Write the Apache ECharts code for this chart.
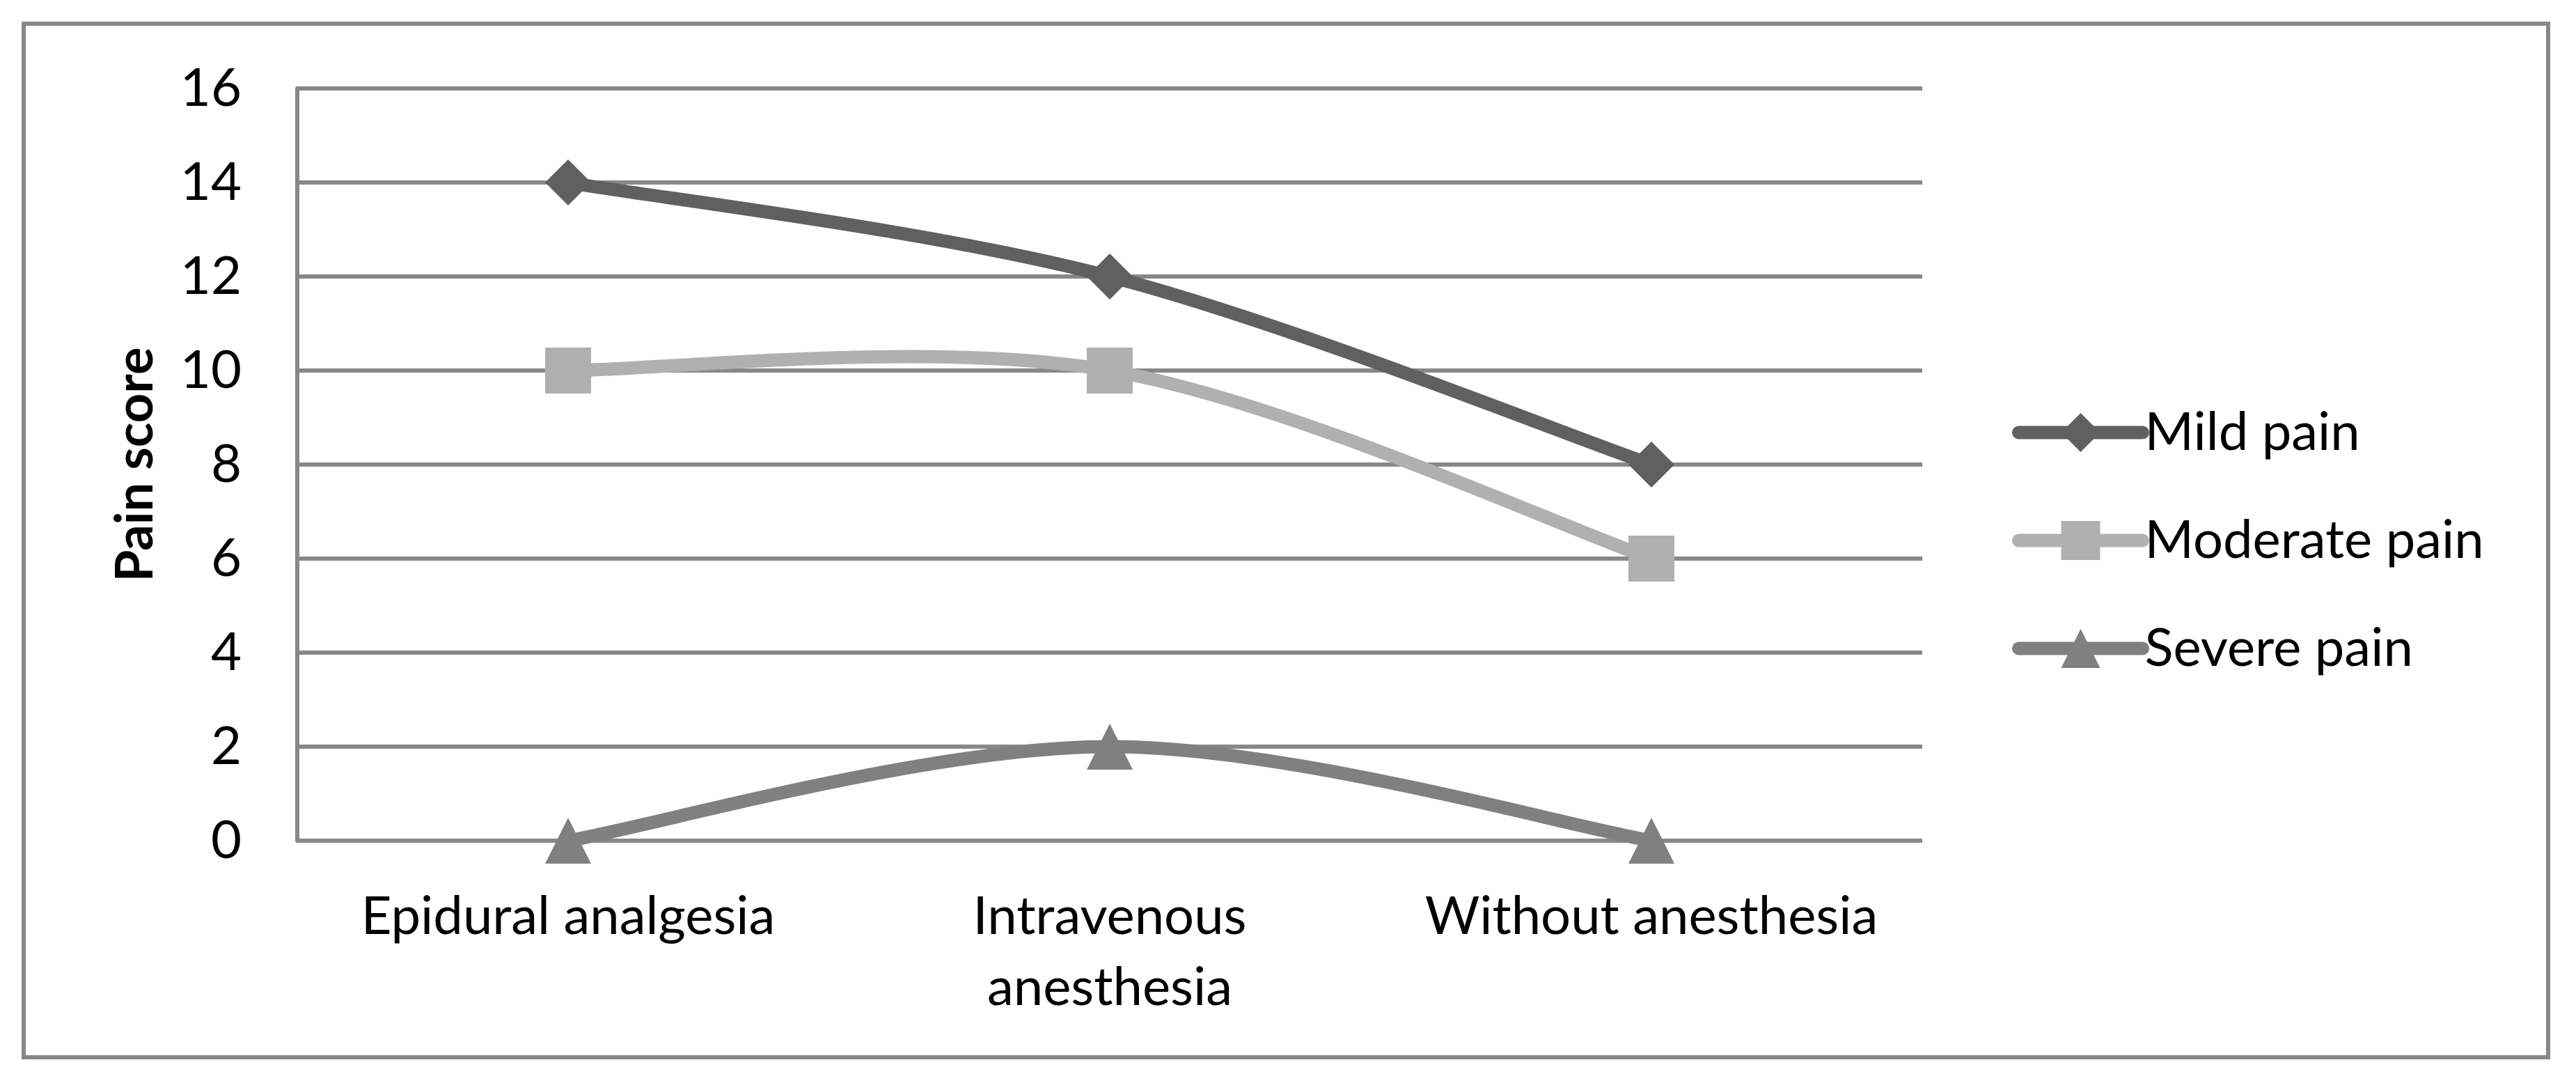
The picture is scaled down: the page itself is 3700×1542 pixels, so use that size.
<!DOCTYPE html>
<html>
<head>
<meta charset="utf-8">
<script src="https://cdn.jsdelivr.net/npm/echarts@6/dist/echarts.min.js"></script>
<style>
html,body{margin:0;padding:0;background:#fff;}
#chart{width:3700px;height:1542px;}
</style>
</head>
<body>
<div id="chart"></div>
<script>
const categories = ['Epidural analgesia', 'Intravenous\nanesthesia', 'Without anesthesia'];
const seriesNames = ['Mild pain', 'Moderate pain', 'Severe pain'];
const mildPain = [14, 12, 8];
const moderatePain = [10, 10, 6];
const severePain = [0, 2, 0];
const yTicks = [0, 2, 4, 6, 8, 10, 12, 14, 16];
const yAxisTitle = 'Pain score';

const FONT = 'Lato';
const GRID_COLOR = '#888888';
const colors = ['#606060', '#b0b0b0', '#808080'];
const symbols = ['diamond', 'rect', 'triangle'];
const values = [mildPain, moderatePain, severePain];
const LINE_W = 19;

const chart = echarts.init(document.getElementById('chart'), null, {renderer: 'canvas'});

// Excel-style smoothed line (Catmull-Rom, 1/6 tension) drawn through the axes' coord mapping
function makeCurveRenderer(vals, color) {
  return function (params, api) {
    if (params.dataIndex !== 0) return null;
    const pts = vals.map((v, j) => api.coord([j, v]));
    const children = [];
    for (let k = 0; k < pts.length - 1; k++) {
      const p0 = pts[Math.max(k - 1, 0)];
      const p1 = pts[k];
      const p2 = pts[k + 1];
      const p3 = pts[Math.min(k + 2, pts.length - 1)];
      children.push({
        type: 'bezierCurve',
        shape: {
          x1: p1[0], y1: p1[1],
          x2: p2[0], y2: p2[1],
          cpx1: p1[0] + (p2[0] - p0[0]) / 6,
          cpy1: p1[1] + (p2[1] - p0[1]) / 6,
          cpx2: p2[0] - (p3[0] - p1[0]) / 6,
          cpy2: p2[1] - (p3[1] - p1[1]) / 6
        },
        style: {stroke: color, lineWidth: LINE_W, fill: 'none', lineCap: 'round', lineJoin: 'round'}
      });
    }
    return {type: 'group', children: children};
  };
}

const series = [];
seriesNames.forEach((name, i) => {
  series.push({
    name: name + ' curve',
    type: 'custom',
    coordinateSystem: 'cartesian2d',
    data: values[i].map((v, j) => [j, v]),
    renderItem: makeCurveRenderer(values[i], colors[i]),
    silent: true,
    clip: false,
    z: 2 + i * 2
  });
  series.push({
    name: name,
    type: 'line',
    data: values[i],
    smooth: false,
    symbol: symbols[i],
    symbolSize: 66,
    showAllSymbol: true,
    lineStyle: {color: colors[i], width: LINE_W, opacity: 0},
    itemStyle: {color: colors[i], borderWidth: 0},
    emphasis: {disabled: true},
    z: 3 + i * 2
  });
});

chart.setOption({
  animation: false,
  backgroundColor: '#ffffff',
  graphic: [{
    type: 'rect',
    shape: {x: 34, y: 34, width: 3626, height: 1484},
    style: {fill: 'none', stroke: GRID_COLOR, lineWidth: 6},
    silent: true
  }],
  grid: {left: 427, right: 939, top: 127, bottom: 335, containLabel: false},
  legend: {
    orient: 'vertical',
    left: 2885,
    top: 578,
    itemWidth: 178,
    itemHeight: 70,
    itemGap: 79,
    data: seriesNames,
    textStyle: {fontFamily: FONT, fontSize: 76, color: '#000', padding: [0, 0, 0, -2]},
    lineStyle: {width: LINE_W, opacity: 1, cap: 'round'},
    selectedMode: false
  },
  xAxis: {
    type: 'category',
    data: categories,
    boundaryGap: true,
    axisLine: {show: false},
    axisTick: {show: false},
    splitLine: {show: false},
    axisLabel: {
      fontFamily: FONT, fontSize: 76, color: '#000', margin: 58,
      lineHeight: 102, interval: 0
    }
  },
  yAxis: {
    type: 'value',
    min: 0,
    max: 16,
    interval: 2,
    name: yAxisTitle,
    nameLocation: 'middle',
    nameGap: 195,
    nameTextStyle: {fontFamily: FONT, fontSize: 74, fontWeight: 'bold', color: '#000'},
    axisLine: {show: true, lineStyle: {color: GRID_COLOR, width: 6}},
    axisTick: {show: false},
    splitLine: {show: true, lineStyle: {color: GRID_COLOR, width: 6}},
    axisLabel: {
      fontFamily: FONT, fontSize: 76, color: '#000', margin: 80,
      formatter: function (v) { return yTicks.indexOf(v) >= 0 ? String(v) : ''; }
    }
  },
  series: series
});
</script>
</body>
</html>
